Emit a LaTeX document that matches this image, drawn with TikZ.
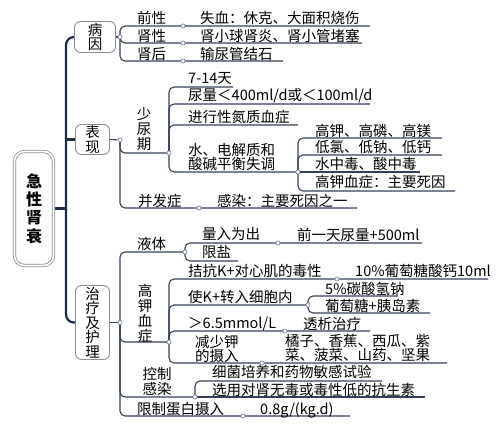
\documentclass[tikz,border=0pt]{standalone}
\usepackage{fontspec}
\setmainfont{Noto Sans CJK SC}
\usetikzlibrary{backgrounds}
\definecolor{trunkblue}{HTML}{1E2B47}
\definecolor{connblue}{HTML}{34405A}
\definecolor{boxgray}{HTML}{8A8F98}
\definecolor{dotgray}{HTML}{6E7787}

\begin{document}
\begin{tikzpicture}[x=1pt,y=-1pt,
  every node/.style={inner sep=0pt},
  topic/.style={draw=boxgray,line width=0.9pt,rounded corners=6pt,fill=white,align=center,font=\fontsize{14.5}{14.5}\selectfont},
  rootbox/.style={draw=boxgray,line width=0.8pt,double=white,double distance=1.6pt,rounded corners=10pt,fill=white,align=center,font=\fontsize{16}{18.3}\selectfont\bfseries,minimum width=39pt,minimum height=114pt},
  txt/.style={anchor=west,yshift=1pt,font=\fontsize{14.5}{14}\selectfont,text height=12.8pt,text depth=1.7pt},
  mtxt/.style={anchor=west,yshift=1pt,align=left,font=\fontsize{14.5}{14}\selectfont},
  vtxt/.style={align=center,yshift=1pt,font=\fontsize{14.5}{15}\selectfont},
  jdot/.style={circle,draw=dotgray,fill=white,line width=0.6pt,minimum size=4.2pt},
  conn/.style={draw=connblue,line width=1.1pt,rounded corners=5pt},
  trunk/.style={draw=trunkblue,line width=2.2pt,rounded corners=8pt}]
\useasboundingbox (0,0) rectangle (500,428);

\node[rootbox] (root) at (34,208.5) {急\\性\\肾\\衰};
\node[topic,minimum width=41pt,minimum height=31pt] (bingyin) at (95,37) {病\\因};
\node[topic,minimum width=34pt,minimum height=30pt] (biaoxian) at (92.5,139.5) {表\\现};
\node[topic,minimum width=34pt,minimum height=74pt] (zhiliao) at (92.5,322.5) {治\\疗\\及\\护\\理};
\coordinate (tr) at (66,0);

\node[jdot] (byd) at (120,37) {};
\node[txt] (qianxing) at (137,19) {前性};
\node[jdot] (qxd) at (183,26) {};
\node[txt] (qxs) at (200,19) {失血：休克、大面积烧伤};
\coordinate (qxe) at (370,26);
\node[txt] (shenxing) at (137,37) {肾性};
\node[jdot] (sxd) at (183,43) {};
\node[txt] (sxs) at (200,37) {肾小球肾炎、肾小管堵塞};
\coordinate (sxe) at (362,43);
\node[txt] (shenhou) at (137,55) {肾后};
\node[jdot] (shd) at (183,61) {};
\node[txt] (shs) at (200,55) {输尿管结石};
\coordinate (she) at (283,61);

\node[jdot] (bxd) at (120,140) {};
\node[vtxt] (shaoniao) at (144,130) {少\\尿\\期};
\node[jdot] (snd) at (169,153) {};
\node[txt] (tian) at (188,79) {7-14天};
\coordinate (tiane) at (233,87);
\node[txt] (niaoliang) at (188,96) {尿量＜400ml/d或＜100ml/d};
\coordinate (niaoe) at (370,104);
\node[txt] (danzhi) at (188,118) {进行性氮质血症};
\coordinate (danzhie) at (298,125);
\node[mtxt] (shuidian) at (188,157.5) {水、电解质和\\酸碱平衡失调};
\node[jdot] (sdd) at (298,172) {};
\node[txt] (gaojia) at (315,132) {高钾、高磷、高镁};
\coordinate (gaojiae) at (442,138);
\node[txt] (dilv) at (315,148) {低氯、低钠、低钙};
\coordinate (dilve) at (442,155);
\node[txt] (shuizd) at (315,165) {水中毒、酸中毒};
\coordinate (shuizde) at (420,172);
\node[txt] (gjxz) at (315,183) {高钾血症：主要死因};
\coordinate (gjxze) at (455,191);
\node[txt] (bingfa) at (138,202) {并发症};
\node[jdot] (bfd) at (199,208) {};
\node[txt] (ganran) at (217,202) {感染：主要死因之一};
\coordinate (ganrane) at (357,208);

\node[jdot] (zld) at (120,322.5) {};
\node[txt] (yeti) at (137,245) {液体};
\node[jdot] (ytd) at (185,252) {};
\node[txt] (liangru) at (202,235) {量入为出};
\node[jdot] (lrd) at (278,243) {};
\node[txt] (qianyitian) at (297,236) {前一天尿量+500ml};
\coordinate (qyte) at (422,243);
\node[txt] (xianyan) at (202,253) {限盐};
\coordinate (xianyane) at (238,261);
\node[vtxt] (gaojiaxz) at (145,314.5) {高\\钾\\血\\症};
\node[jdot] (gjd) at (169,342) {};
\node[txt] (jiekang) at (188,272) {拮抗K+对心肌的毒性};
\node[jdot] (jkd) at (337,279) {};
\node[txt] (putaotang) at (355,272) {10\%葡萄糖酸钙10ml};
\coordinate (ptte) at (488,279);
\node[txt] (zhuanru) at (188,298) {使K+转入细胞内};
\node[jdot] (zrd) at (308,305) {};
\node[txt] (tansuan) at (325,290) {5\%碳酸氢钠};
\coordinate (tansuane) at (398,296);
\node[txt] (yidaosu) at (325,307) {葡萄糖+胰岛素};
\coordinate (yidaosue) at (430,313);
\node[txt] (mmol) at (188,324) {＞6.5mmol/L};
\node[jdot] (mmd) at (285,331) {};
\node[txt] (touxi) at (303,325) {透析治疗};
\coordinate (touxie) at (370,331);
\node[mtxt] (jianshao) at (195,349.5) {减少钾\\的摄入};
\node[jdot] (jsd) at (262,363) {};
\node[mtxt] (juzi) at (285,349) {橘子、香蕉、西瓜、紫\\菜、菠菜、山药、坚果};
\coordinate (juzie) at (447,363);
\node[vtxt] (kongzhi) at (157,382.5) {控制\\感染};
\node[jdot] (kzd) at (195,397) {};
\node[txt] (xijun) at (212,373) {细菌培养和药物敏感试验};
\coordinate (xijune) at (382,381);
\node[txt] (xuanyong) at (212,391) {选用对肾无毒或毒性低的抗生素};
\coordinate (xuanyonge) at (425,397);
\node[txt] (danbai) at (137,410) {限制蛋白摄入};
\node[jdot] (dbd) at (243,416) {};
\node[txt] (liang) at (260,410) {0.8g/(kg.d)};
\coordinate (liange) at (350,416);

\begin{scope}[on background layer]
\draw[trunk] (bingyin.west) -- (bingyin.west -| tr) -- (zhiliao.west -| tr) -- (zhiliao.west);
\draw[trunk] (root.east) -- (root.east -| tr);
\draw[trunk] (biaoxian.west -| tr) -- (biaoxian.west);

\draw[conn] (bingyin.east) -- (byd);
\draw[conn] (byd.center) |- (qxd.center) -- (qxe);
\draw[conn] (byd.center) |- (sxd.center) -- (sxe);
\draw[conn] (byd.center) |- (shd.center) -- (she);

\draw[conn] (biaoxian.east) -- (bxd);
\draw[conn] (bxd.center) |- (snd.center);
\draw[conn] (bxd.center) |- (bfd.center) -- (ganrane);
\draw[conn] (snd.center) |- (tiane);
\draw[conn] (snd.center) |- (niaoe);
\draw[conn] (snd.center) |- (danzhie);
\draw[conn] (snd.center) |- (sdd.center);
\draw[conn] (sdd.center) |- (gaojiae);
\draw[conn] (sdd.center) |- (dilve);
\draw[conn] (sdd.center) -- (shuizde);
\draw[conn] (sdd.center) |- (gjxze);

\draw[conn] (zhiliao.east) -- (zld);
\draw[conn] (zld.center) |- (ytd.center);
\draw[conn] (zld.center) |- (gjd.center);
\draw[conn] (zld.center) |- (kzd.center);
\draw[conn] (zld.center) |- (dbd.center) -- (liange);
\draw[conn] (ytd.center) |- (lrd.center) -- (qyte);
\draw[conn] (ytd.center) |- (xianyane);
\draw[conn] (gjd.center) |- (jkd.center) -- (ptte);
\draw[conn] (gjd.center) |- (zrd.center);
\draw[conn] (gjd.center) |- (mmd.center) -- (touxie);
\draw[conn] (gjd.center) |- (jsd.center) -- (juzie);
\draw[conn] (zrd.center) |- (tansuane);
\draw[conn] (zrd.center) |- (yidaosue);
\draw[conn] (kzd.center) |- (xijune);
\draw[conn] (kzd.center) -- (xuanyonge);
\end{scope}
\end{tikzpicture}
\end{document}
